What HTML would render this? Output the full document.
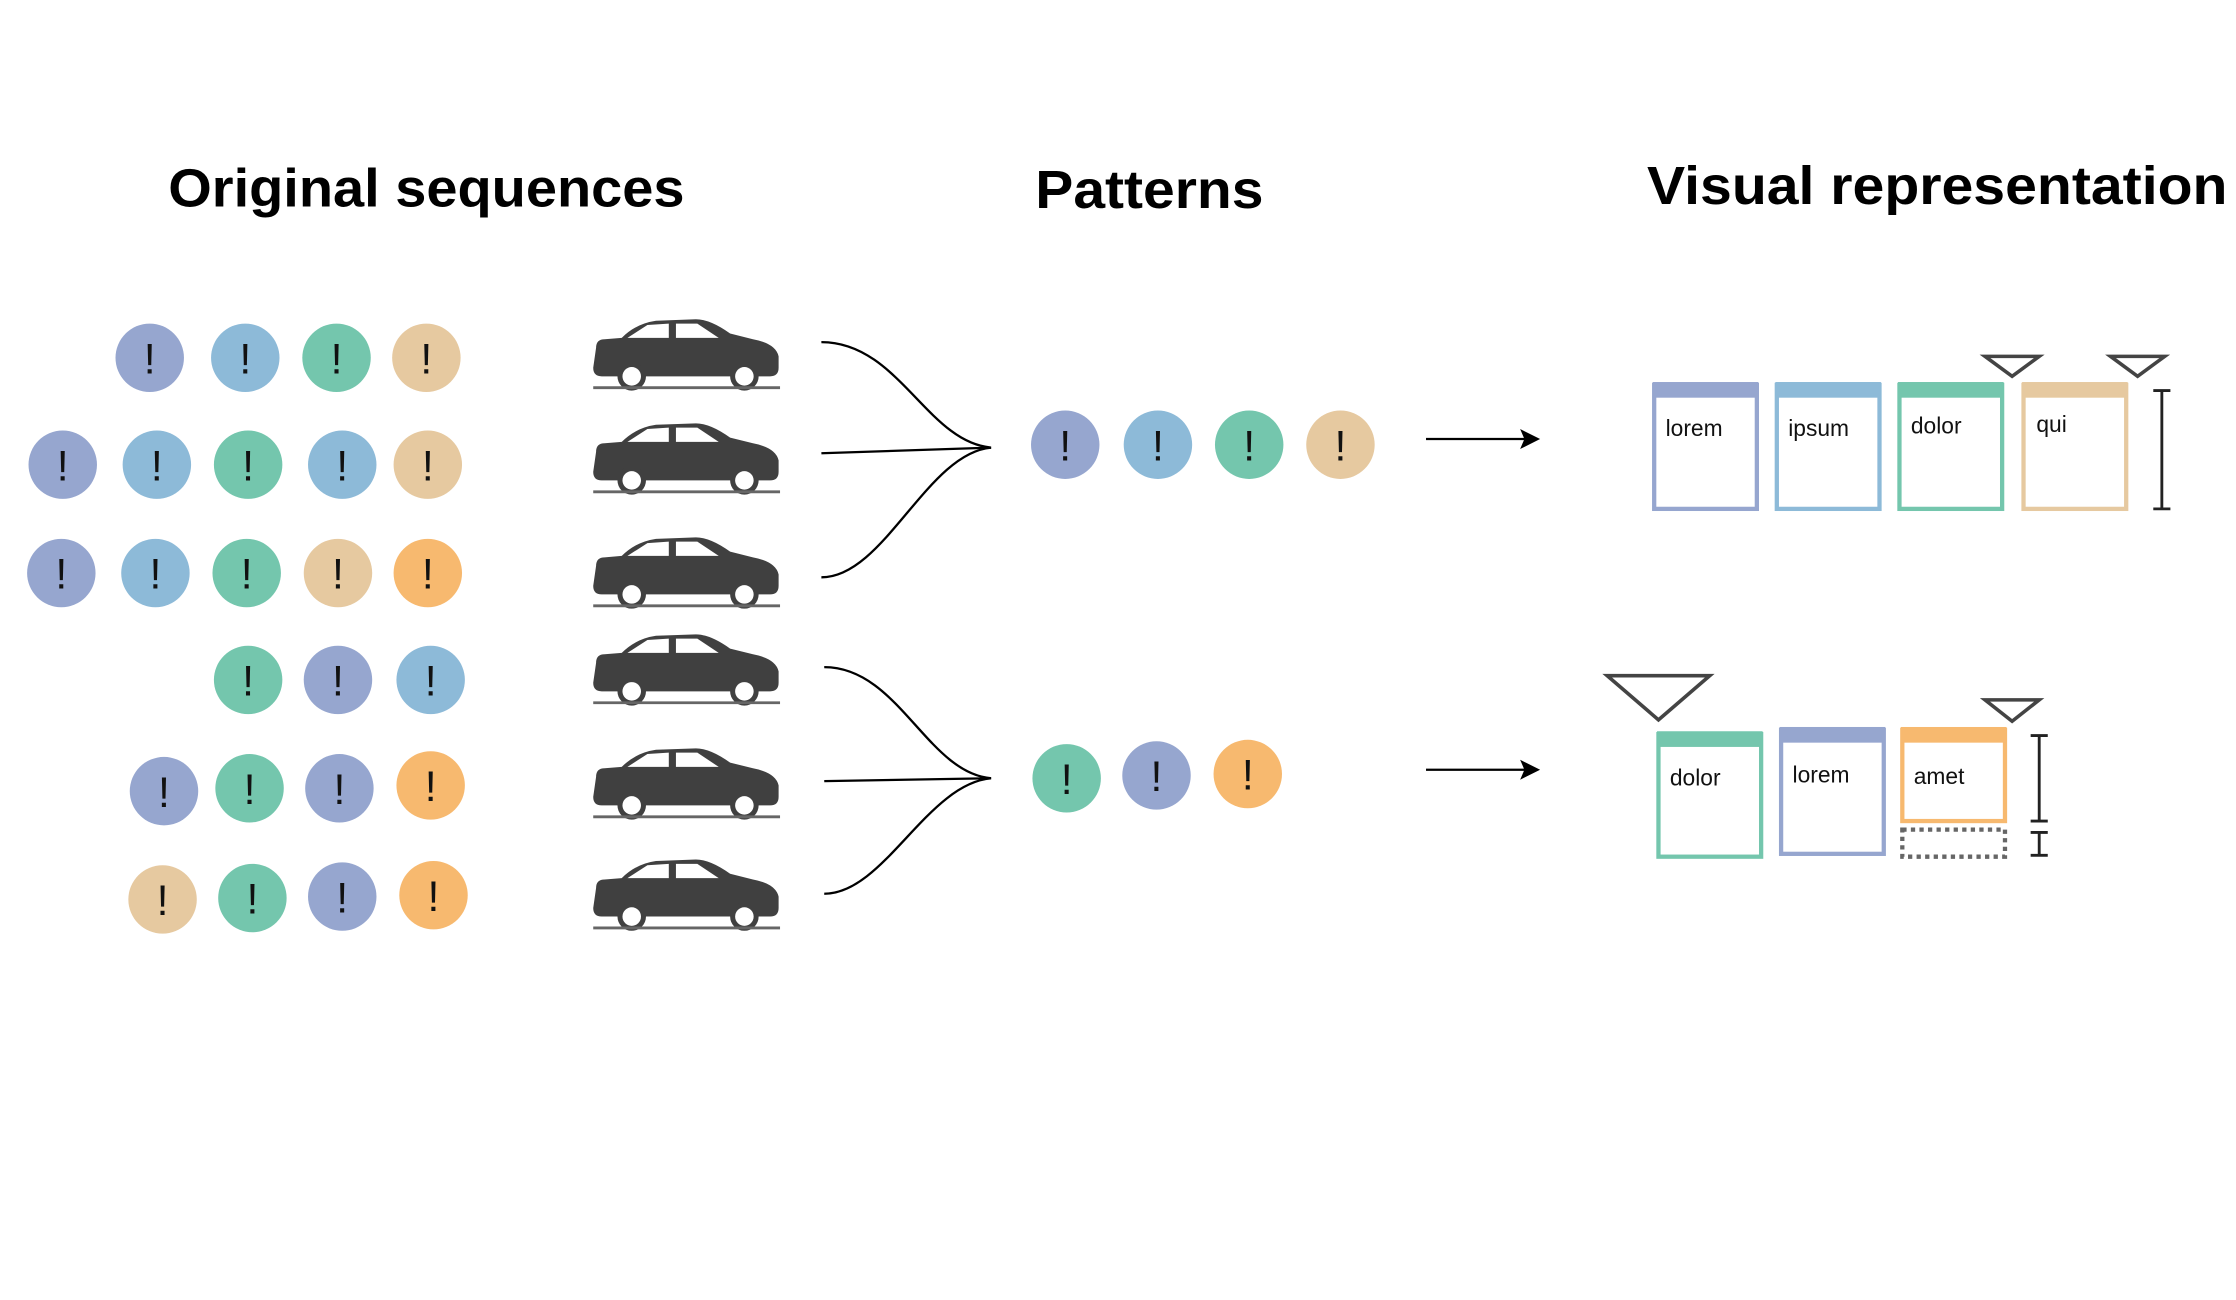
<!DOCTYPE html>
<html><head><meta charset="utf-8"><style>html,body{margin:0;padding:0;background:#fff}svg{display:block}</style></head>
<body>
<svg width="2236" height="1300" viewBox="0 0 1568 912" preserveAspectRatio="none" xmlns="http://www.w3.org/2000/svg" font-family="Liberation Sans, sans-serif">
<defs>
<g id="car">
<path d="M2,20 Q2,14 8,14 L20,13 Q30,3 44,1 L72,0 Q82,0 96,10 L112,14 Q128,17 130,26 L130,34 Q130,40 124,40 L6,40 Q0,40 0,34 Z" fill="#404040"/>
<path d="M24,13 L38,4 L53,3 L53,13 Z M58,3 L73,3 L88,13 L58,13 Z" fill="#fff"/>
<circle cx="27" cy="40" r="10" fill="#404040"/><circle cx="27" cy="40" r="6.5" fill="#fff"/>
<circle cx="106" cy="40" r="10" fill="#404040"/><circle cx="106" cy="40" r="6.5" fill="#fff"/>
<line x1="0" y1="48" x2="131" y2="48" stroke="#666" stroke-width="2"/>
</g>
</defs>
<g font-weight="bold" fill="#000" font-size="38">
<text x="118" y="145" textLength="362" lengthAdjust="spacingAndGlyphs">Original sequences</text>
<text x="726" y="146" textLength="160" lengthAdjust="spacingAndGlyphs">Patterns</text>
<text x="1155" y="143" textLength="407" lengthAdjust="spacingAndGlyphs">Visual representation</text>
</g>
<g font-size="30" text-anchor="middle" fill="#111">
<circle cx="105" cy="251" r="24" fill="#96a6cf"/><text x="105" y="262">!</text>
<circle cx="172" cy="251" r="24" fill="#8dbad8"/><text x="172" y="262">!</text>
<circle cx="236" cy="251" r="24" fill="#74c6ad"/><text x="236" y="262">!</text>
<circle cx="299" cy="251" r="24" fill="#e6c9a0"/><text x="299" y="262">!</text>

<circle cx="44" cy="326" r="24" fill="#96a6cf"/><text x="44" y="337">!</text>
<circle cx="110" cy="326" r="24" fill="#8dbad8"/><text x="110" y="337">!</text>
<circle cx="174" cy="326" r="24" fill="#74c6ad"/><text x="174" y="337">!</text>
<circle cx="240" cy="326" r="24" fill="#8dbad8"/><text x="240" y="337">!</text>
<circle cx="300" cy="326" r="24" fill="#e6c9a0"/><text x="300" y="337">!</text>

<circle cx="43" cy="402" r="24" fill="#96a6cf"/><text x="43" y="413">!</text>
<circle cx="109" cy="402" r="24" fill="#8dbad8"/><text x="109" y="413">!</text>
<circle cx="173" cy="402" r="24" fill="#74c6ad"/><text x="173" y="413">!</text>
<circle cx="237" cy="402" r="24" fill="#e6c9a0"/><text x="237" y="413">!</text>
<circle cx="300" cy="402" r="24" fill="#f7b96f"/><text x="300" y="413">!</text>

<circle cx="174" cy="477" r="24" fill="#74c6ad"/><text x="174" y="488">!</text>
<circle cx="237" cy="477" r="24" fill="#96a6cf"/><text x="237" y="488">!</text>
<circle cx="302" cy="477" r="24" fill="#8dbad8"/><text x="302" y="488">!</text>

<circle cx="115" cy="555" r="24" fill="#96a6cf"/><text x="115" y="566">!</text>
<circle cx="175" cy="553" r="24" fill="#74c6ad"/><text x="175" y="564">!</text>
<circle cx="238" cy="553" r="24" fill="#96a6cf"/><text x="238" y="564">!</text>
<circle cx="302" cy="551" r="24" fill="#f7b96f"/><text x="302" y="562">!</text>

<circle cx="114" cy="631" r="24" fill="#e6c9a0"/><text x="114" y="642">!</text>
<circle cx="177" cy="630" r="24" fill="#74c6ad"/><text x="177" y="641">!</text>
<circle cx="240" cy="629" r="24" fill="#96a6cf"/><text x="240" y="640">!</text>
<circle cx="304" cy="628" r="24" fill="#f7b96f"/><text x="304" y="639">!</text>

<circle cx="747" cy="312" r="24" fill="#96a6cf"/><text x="747" y="323">!</text>
<circle cx="812" cy="312" r="24" fill="#8dbad8"/><text x="812" y="323">!</text>
<circle cx="876" cy="312" r="24" fill="#74c6ad"/><text x="876" y="323">!</text>
<circle cx="940" cy="312" r="24" fill="#e6c9a0"/><text x="940" y="323">!</text>

<circle cx="748" cy="546" r="24" fill="#74c6ad"/><text x="748" y="557">!</text>
<circle cx="811" cy="544" r="24" fill="#96a6cf"/><text x="811" y="555">!</text>
<circle cx="875" cy="543" r="24" fill="#f7b96f"/><text x="875" y="554">!</text>
</g>
<use href="#car" x="416" y="224"/>
<use href="#car" x="416" y="297"/>
<use href="#car" x="416" y="377"/>
<use href="#car" x="416" y="445"/>
<use href="#car" x="416" y="525"/>
<use href="#car" x="416" y="603"/>
<g fill="none" stroke="#000" stroke-width="1.6">
<path d="M576,240 C630,240 650,310 695,314"/>
<path d="M576,318 L695,314"/>
<path d="M576,405 C620,405 650,318 695,314"/>
<path d="M578,468 C630,468 650,542 695,546"/>
<path d="M578,548 L695,546"/>
<path d="M578,627 C620,627 650,550 695,546"/>
<line x1="1000" y1="308" x2="1070" y2="308"/>
<line x1="1000" y1="540" x2="1070" y2="540"/>
</g>
<path d="M1080,308 L1066,301 L1069,308 L1066,315 Z M1080,540 L1066,533 L1069,540 L1066,547 Z" fill="#000"/>
<g stroke-width="3" fill="#fff">
<rect x="1160" y="270" width="72" height="87" stroke="#96a6cf"/><rect x="1159" y="268" width="74" height="11" fill="#96a6cf" stroke="none"/>
<rect x="1246" y="270" width="72" height="87" stroke="#8dbad8"/><rect x="1245" y="268" width="74" height="11" fill="#8dbad8" stroke="none"/>
<rect x="1332" y="270" width="72" height="87" stroke="#74c6ad"/><rect x="1331" y="268" width="74" height="11" fill="#74c6ad" stroke="none"/>
<rect x="1419" y="270" width="72" height="87" stroke="#e6c9a0"/><rect x="1418" y="268" width="74" height="11" fill="#e6c9a0" stroke="none"/>
<rect x="1163" y="515" width="72" height="86" stroke="#74c6ad"/><rect x="1162" y="513" width="74" height="11" fill="#74c6ad" stroke="none"/>
<rect x="1249" y="512" width="72" height="87" stroke="#96a6cf"/><rect x="1248" y="510" width="74" height="11" fill="#96a6cf" stroke="none"/>
<rect x="1334" y="512" width="72" height="64" stroke="#f7b96f"/><rect x="1333" y="510" width="74" height="11" fill="#f7b96f" stroke="none"/>
<rect x="1334" y="582" width="72" height="19" stroke="#666" stroke-dasharray="3,3"/>
</g>
<g font-size="16" fill="#111">
<text x="1168" y="306">lorem</text><text x="1254" y="306">ipsum</text><text x="1340" y="304">dolor</text><text x="1428" y="303">qui</text>
<text x="1171" y="551">dolor</text><text x="1257" y="549">lorem</text><text x="1342" y="550">amet</text>
</g>
<g fill="none" stroke="#444" stroke-width="2.5">
<path d="M1392,250 L1430,250 L1411,264 Z"/>
<path d="M1480,250 L1518,250 L1499,264 Z"/>
<path d="M1127,474 L1199,474 L1163,505 Z"/>
<path d="M1392,491 L1430,491 L1411,506 Z"/>
</g>
<g stroke="#222" stroke-width="2" fill="none">
<path d="M1516,274 L1516,357 M1510,274 L1522,274 M1510,357 L1522,357"/>
<path d="M1430,516 L1430,576 M1424,516 L1436,516 M1424,576 L1436,576"/>
<path d="M1430,584 L1430,600 M1424,584 L1436,584 M1424,600 L1436,600"/>
</g>
</svg>
</body></html>
